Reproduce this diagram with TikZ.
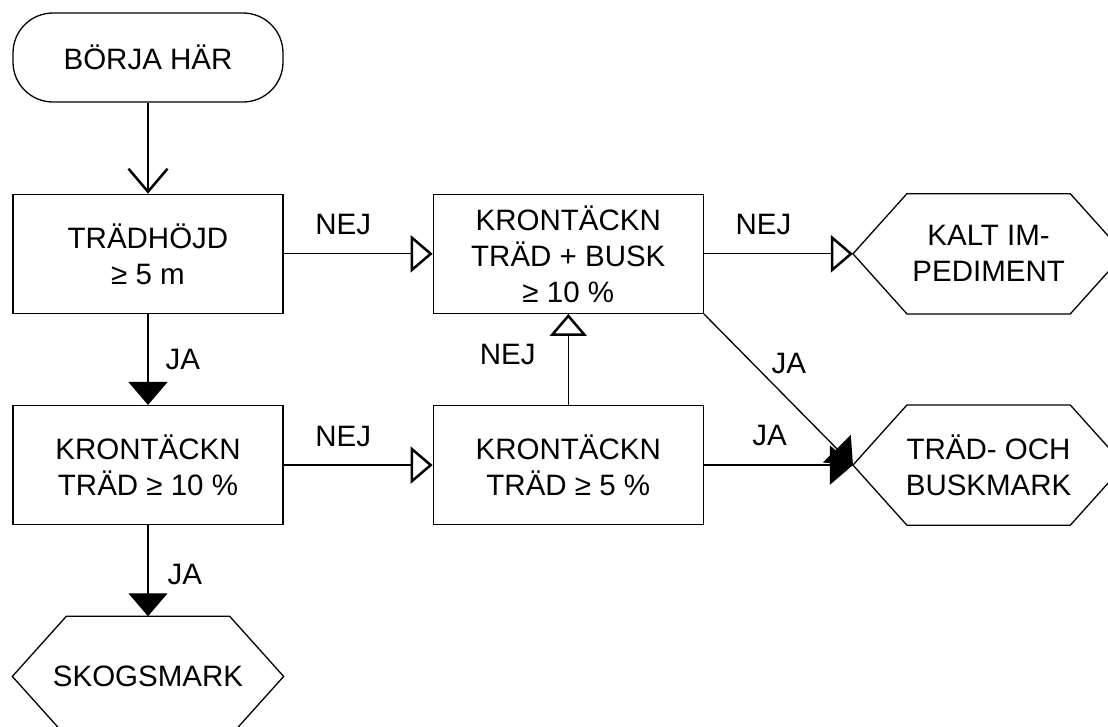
\documentclass[tikz,border=0pt]{standalone}
\usepackage{fontspec}
\setmainfont{Liberation Sans}
\usetikzlibrary{arrows.meta,positioning}
\tikzset{box/.style={draw,line width=1.3pt,minimum width=270pt,minimum height=119pt,align=center,font=\fontsize{29.5}{36}\selectfont,inner sep=0pt}, startbox/.style={box,rounded corners=40pt,minimum height=89pt}, outcome/.style={box,draw=none,append after command={\pgfextra{\draw[line width=1.3pt] (\tikzlastnode.west)--([xshift=54pt]\tikzlastnode.north west)--([xshift=-54pt]\tikzlastnode.north east)--(\tikzlastnode.east)--([xshift=-54pt]\tikzlastnode.south east)--([xshift=54pt]\tikzlastnode.south west)--cycle;}}}, lbl/.style={font=\fontsize{29.5}{36}\selectfont,inner sep=0pt}, startpil/.style={line width=1.3pt,-{Straight Barb[length=23pt,width=39pt,line width=2.5pt]}}, nejpil/.style={line width=1.3pt,-{Triangle[open,length=22pt,width=37pt,line width=2.5pt]}}, japil/.style={line width=1.3pt,-{Triangle[length=23pt,width=39pt]}}}
\begin{document}
\begin{tikzpicture}[node distance=91pt and 149pt]
\useasboundingbox (0,0) rectangle (1108pt,-726pt);
\node[startbox] (s) at (148pt,-57.5pt) {BÖRJA HÄR};
\node[box,below=of s] (h) {TRÄDHÖJD\\≥ 5 m};
\node[box,right=of h] (tb) {KRONTÄCKN\\TRÄD + BUSK\\≥ 10 \%};
\node[outcome,right=of tb] (kalt) {KALT IM-\\PEDIMENT};
\node[box,below=of h] (t10) {KRONTÄCKN\\TRÄD ≥ 10 \%};
\node[box,right=of t10] (t5) {KRONTÄCKN\\TRÄD ≥ 5 \%};
\node[outcome,right=of t5] (tbm) {TRÄD- OCH\\BUSKMARK};
\node[outcome,below=of t10] (skog) {SKOGSMARK};
\draw[startpil] (s)--(h);
\draw[nejpil] (h)--node[lbl,above=18pt,pos=.4]{NEJ}(tb);
\draw[nejpil] (tb)--node[lbl,above=18pt,pos=.4]{NEJ}(kalt);
\draw[nejpil] (t10)--node[lbl,above=18pt,pos=.4]{NEJ}(t5);
\draw[nejpil] (t5)--node[lbl,left=32pt,pos=.55]{NEJ}(tb);
\draw[japil] (h)--node[lbl,right=17pt,pos=.5]{JA}(t10);
\draw[japil] (t10)--node[lbl,right=19pt,pos=.54]{JA}(skog);
\draw[japil] (t5)--node[lbl,above=19pt,pos=.44]{JA}(tbm);
\draw[japil] (tb.south east)--node[lbl,above right=8pt and 0pt,pos=.45]{JA}(tbm.west);
\end{tikzpicture}
\end{document}
